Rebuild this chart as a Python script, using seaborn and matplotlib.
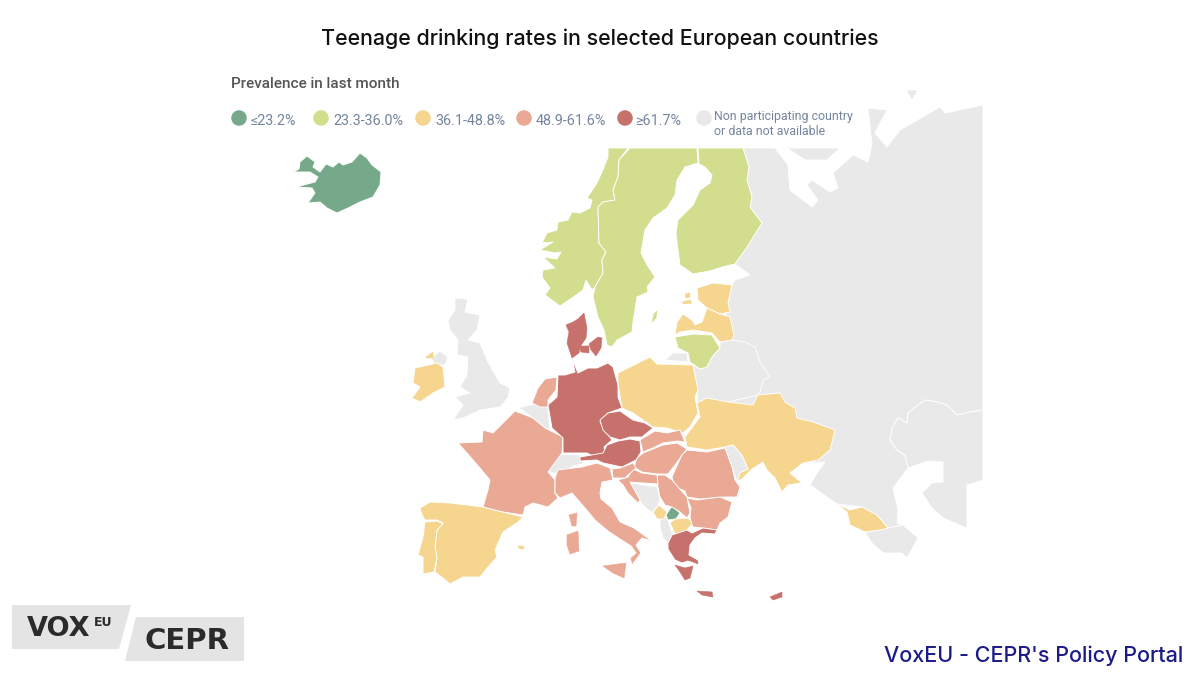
import matplotlib
matplotlib.use("Agg")
import matplotlib.pyplot as plt
import pandas as pd
import seaborn as sns

# legend bands
band_labels = ["≤23.2%", "23.3-36.0%", "36.1-48.8%", "48.9-61.6%", "≥61.7%"]
no_data_label = "Non participating country\nor data not available"
band_colors = ["#76a98a", "#d2dd8e", "#f6d58f", "#e9a994", "#c7716c", "#e9e9e9"]

# outlines, in image pixels
iceland = [(293,172),(299,169),(300,162),(307,156),(315,162),(313,167),(320,172),(326,164),(333,167),(339,162),(343,165),(352,162),(360,153),(367,158),(372,165),(381,172),(380,185),(373,197),(360,202),(348,208),(337,213),(327,208),(320,202),(308,203),(315,193),(312,188),(296,187),(315,182),(318,177),(310,172)]
norway = [(608,148),(628,148),(619,160),(618,177),(613,190),(615,200),(603,202),(598,207),(599,243),(606,252),(602,260),(603,273),(595,287),(592,290),(586,280),(583,290),(572,298),(560,306),(545,295),(550,288),(542,277),(543,270),(555,268),(543,257),(557,259),(561,252),(555,253),(540,250),(553,242),(542,243),(547,233),(557,230),(558,222),(568,220),(572,212),(580,213),(590,208),(592,200),(587,198),(597,183),(602,172),(608,157)]
sweden = [(630,148),(697,148),(698,163),(685,167),(677,180),(675,195),(667,208),(653,218),(645,230),(641,253),(647,265),(655,277),(647,287),(648,292),(637,297),(633,322),(632,332),(617,340),(612,347),(607,345),(604,330),(598,317),(593,297),(595,287),(603,273),(602,260),(606,252),(599,243),(598,207),(603,202),(615,200),(613,190),(618,177),(619,160)]
gotland = [(652,322),(654,314),(657,311),(656,318)]
finland = [(698,148),(743,148),(749,167),(747,180),(752,197),(750,207),(762,223),(747,247),(735,264),(722,267),(710,271),(693,274),(680,265),(678,250),(676,233),(678,220),(693,205),(700,190),(710,183),(712,175),(705,167),(699,164)]
estonia = [(697,288),(713,283),(732,285),(728,303),(730,312),(720,314),(707,308),(698,300)]
saaremaa = [(682,302),(690,300),(692,303),(684,304)]
hiiumaa = [(685,294),(690,293),(690,297),(686,298)]
latvia = [(675,335),(677,322),(683,314),(692,320),(695,325),(702,322),(707,308),(720,314),(730,317),(734,335),(732,340),(720,342),(712,333),(693,330),(680,332)]
lithuania = [(675,337),(693,334),(712,335),(720,348),(712,357),(707,367),(700,369),(690,362),(688,353),(678,348)]
kaliningrad = [(665,360),(673,353),(687,353),(688,362)]
poland = [(618,373),(650,357),(657,364),(693,365),(698,390),(695,397),(698,413),(690,427),(683,433),(667,428),(653,427),(633,413),(622,408),(618,383)]
jutland = [(566,325),(573,322),(578,319),(584,313),(587,328),(586,338),(580,347),(579,353),(572,358),(567,343),(569,332)]
zealand = [(589,344),(598,337),(602,338),(601,348),(596,356),(591,350)]
funen = [(579,346),(589,346),(589,353),(581,352)]
germany = [(572,358),(578,373),(588,368),(597,368),(608,363),(613,367),(618,385),(618,397),(622,408),(608,413),(600,422),(607,433),(612,440),(604,447),(605,453),(593,456),(587,453),(563,453),(563,438),(552,428),(548,405),(557,397),(558,375),(565,375),(575,372)]
czechia = [(600,420),(608,413),(620,411),(633,420),(645,423),(653,428),(642,437),(630,437),(620,440),(610,437),(603,430)]
austria = [(607,445),(618,441),(630,439),(640,441),(641,452),(636,460),(622,467),(603,463),(597,460),(580,461),(580,457),(603,453)]
netherlands = [(532,403),(538,388),(545,379),(557,377),(556,390),(548,400),(548,407),(540,407)]
belgium = [(519,408),(533,404),(548,407),(550,430),(545,428),(533,418)]
france = [(515,411),(533,418),(545,428),(563,437),(562,453),(548,472),(555,480),(555,493),(558,498),(548,507),(533,503),(525,507),(523,515),(503,512),(483,507),(488,490),(490,480),(480,468),(467,453),(458,443),(482,442),(483,430),(493,433)]
corsica = [(569,515),(577,513),(576,526),(572,526)]
sardinia = [(567,535),(578,531),(579,551),(570,554),(567,545)]
sicily = [(603,566),(626,563),(624,578),(613,573)]
italy = [(555,478),(558,470),(582,467),(597,463),(610,468),(613,480),(602,482),(600,493),(601,499),(612,508),(620,522),(634,528),(652,541),(642,538),(636,545),(641,553),(632,565),(630,558),(636,553),(631,546),(620,539),(608,531),(595,520),(585,508),(572,493),(560,498),(555,493)]
switzerland = [(547,471),(555,457),(563,454),(580,455),(583,464),(573,466),(560,475)]
spain = [(420,508),(430,502),(450,503),(483,507),(503,512),(523,517),(518,522),(503,532),(495,550),(497,557),(488,567),(480,577),(463,577),(450,584),(443,578),(435,572),(437,557),(435,547),(437,530),(443,523),(437,520),(425,520),(422,515)]
portugal = [(425,522),(437,521),(443,524),(437,530),(435,547),(437,557),(434,572),(423,574),(423,557),(418,555),(423,537)]
mallorca = [(518,546),(523,546),(524,549),(520,549)]
ireland = [(415,368),(428,365),(437,363),(443,367),(445,387),(433,393),(420,402),(412,398),(420,387),(413,383)]
donegal = [(426,357),(433,352),(433,358),(427,358)]
n_ireland = [(431,358),(440,351),(448,357),(445,365),(435,365)]
britain = [(455,298),(468,299),(465,312),(480,315),(477,330),(468,340),(480,343),(488,362),(500,383),(510,388),(508,398),(500,407),(480,410),(463,418),(453,420),(463,405),(455,397),(470,393),(460,387),(467,375),(468,357),(457,355),(458,340),(450,330),(448,320),(455,310)]
slovakia = [(640,440),(655,431),(667,433),(680,430),(685,442),(677,441),(663,443),(653,448),(643,452)]
hungary = [(637,458),(643,453),(653,449),(663,445),(677,443),(687,449),(680,458),(675,465),(668,474),(657,474),(642,472),(634,467)]
romania = [(687,450),(707,452),(725,448),(732,467),(735,480),(740,487),(737,497),(723,497),(700,499),(687,497),(685,491),(675,487),(672,477),(675,470),(682,455)]
moldova = [(725,447),(733,445),(742,455),(748,469),(740,473),(737,482),(732,467)]
ukraine = [(685,437),(700,417),(697,403),(707,398),(728,402),(753,405),(758,395),(780,393),(785,402),(795,408),(797,418),(813,422),(835,430),(830,450),(818,460),(803,463),(790,473),(802,483),(788,485),(782,492),(775,478),(767,470),(763,462),(752,469),(743,478),(737,482),(740,473),(748,469),(742,455),(733,445),(725,447),(707,450),(687,447)]
belarus = [(732,340),(745,342),(755,347),(760,362),(770,377),(763,380),(760,392),(758,395),(728,402),(697,403),(698,390),(693,365),(688,362),(700,369),(707,367),(712,357),(720,348),(720,342)]
bulgaria = [(687,498),(697,500),(720,497),(732,502),(728,517),(720,523),(717,530),(703,528),(693,527),(690,518),(691,508)]
serbia = [(657,475),(665,475),(672,480),(678,487),(687,497),(690,513),(687,518),(680,512),(672,507),(665,505),(660,497),(658,487)]
kosovo = [(666,515),(672,506),(680,513),(676,519),(668,520)]
montenegro = [(653,512),(659,505),(667,512),(664,519),(657,519)]
macedonia = [(670,523),(675,519),(688,518),(693,523),(686,531),(675,534)]
albania = [(660,518),(665,515),(668,520),(671,530),(673,535),(668,543),(663,538),(660,528)]
greece = [(672,535),(687,530),(692,533),(703,528),(717,530),(715,534),(702,533),(695,538),(690,545),(689,555),(698,560),(699,565),(688,561),(682,563),(675,560),(668,549),(668,543)]
peloponnese = [(675,565),(685,568),(693,566),(690,578),(685,580),(680,572)]
crete = [(697,591),(712,592),(713,597),(702,595)]
cyprus = [(770,597),(782,592),(782,597),(773,600)]
bosnia = [(630,483),(643,485),(657,487),(660,500),(658,505),(652,513),(643,505),(635,495)]
croatia = [(628,477),(633,469),(642,473),(657,475),(658,484),(643,483),(630,482),(640,500),(638,503),(628,493),(623,485),(618,480)]
slovenia = [(612,469),(620,468),(633,463),(636,468),(628,475),(625,478),(613,478)]
georgia = [(837,504),(850,510),(862,507),(877,515),(888,528),(880,530),(865,532),(850,525),(847,512)]
caucasus_south = [(865,532),(880,530),(888,528),(903,525),(918,538),(907,558),(902,553),(883,553),(872,543)]
russia = [(743,148),(775,148),(788,165),(790,190),(812,207),(818,200),(807,185),(812,180),(830,192),(838,188),(833,173),(853,155),(868,162),(872,145),(868,108),(887,110),(875,133),(887,147),(900,130),(940,107),(945,113),(983,105),(983,410),(970,412),(957,415),(947,405),(937,402),(925,400),(908,413),(907,423),(898,418),(892,428),(890,440),(897,450),(905,455),(908,468),(893,488),(898,510),(897,523),(903,525),(888,528),(877,515),(862,507),(837,504),(810,485),(817,473),(825,462),(803,463),(760,430),(700,410),(690,362),(720,345),(732,285),(735,280),(750,275),(735,264),(762,223),(750,207),(752,197),(747,180),(749,167)]
kola_strip = [(787,148),(840,148),(827,160),(805,160)]
novaya = [(906,90),(918,90),(912,100)]
kazakhstan = [(908,468),(905,455),(897,450),(890,440),(892,428),(898,418),(907,423),(908,413),(925,400),(937,402),(947,405),(957,415),(970,412),(983,410),(983,480),(967,485),(967,528),(943,518),(932,508),(922,493),(932,483),(943,482),(943,462),(928,461)]

# band index per outline, 5 = no data
map_table = pd.DataFrame(
    [(russia, 5), (kola_strip, 5), (novaya, 5), (kazakhstan, 5), (caucasus_south, 5), (belarus, 5),
     (moldova, 5), (bosnia, 5), (albania, 5), (switzerland, 5), (belgium, 5), (britain, 5),
     (n_ireland, 5), (kaliningrad, 5),
     (iceland, 0), (kosovo, 0),
     (norway, 1), (sweden, 1), (finland, 1), (lithuania, 1),
     (estonia, 2), (latvia, 2), (poland, 2), (ukraine, 2), (georgia, 2),
     (spain, 2), (portugal, 2), (ireland, 2), (montenegro, 2), (macedonia, 2),
     (france, 3), (italy, 3), (netherlands, 3), (slovakia, 3),
     (hungary, 3), (romania, 3), (bulgaria, 3), (serbia, 3), (croatia, 3), (slovenia, 3),
     (germany, 4), (czechia, 4), (austria, 4), (greece, 4)],
    columns=["outline", "band"],
)
# islands and small pieces keep their own colour on the edge, a white one would eat them
islands_table = pd.DataFrame(
    [(gotland, 1), (saaremaa, 2), (hiiumaa, 2), (mallorca, 2), (donegal, 2),
     (corsica, 3), (sardinia, 3), (sicily, 3),
     (jutland, 4), (zealand, 4), (funen, 4), (peloponnese, 4), (crete, 4), (cyprus, 4)],
    columns=["outline", "band"],
)

legend_x = [239, 321, 423, 524, 625, 704]
legend_text_x = [251, 333, 435, 536, 635, 714]

sns.set_theme(style="white")
plt.rcParams["font.family"] = ["Roboto", "DejaVu Sans"]
palette = sns.color_palette(band_colors)

fig = plt.figure(figsize=(12, 6.75), dpi=100)
ax = fig.add_axes([0, 0, 1, 1])

for outline, band in zip(map_table["outline"], map_table["band"]):
    xs, ys = zip(*outline)
    ax.fill(xs, ys, facecolor=palette[band], edgecolor="white", linewidth=0.65, joinstyle="round")
for outline, band in zip(islands_table["outline"], islands_table["band"]):
    xs, ys = zip(*outline)
    ax.fill(xs, ys, facecolor=palette[band], edgecolor=palette[band], linewidth=0.4, joinstyle="round")

# legend dots
legend_df = pd.DataFrame({"x": legend_x, "y": [118] * 6, "band": band_labels + [no_data_label]})
sns.scatterplot(data=legend_df, x="x", y="y", hue="band", palette=palette, s=125, linewidth=0,
                legend=False, ax=ax)
ax.set_xlim(0, 1200)
ax.set_ylim(675, 0)
ax.axis("off")

ax.text(231, 84, "Prevalence in last month", fontsize=11, fontweight="medium", color="#555555", va="center")
for tx, label in zip(legend_text_x[:5], band_labels):
    ax.text(tx, 121, label, fontsize=10.4, color="#75859f", va="center")
ax.text(714, 124, no_data_label, fontsize=8.9, color="#75859f", va="center", linespacing=1.25)

ax.text(600, 39, "Teenage drinking rates in selected European countries", fontsize=15.4,
        fontweight="medium", color="#111111", ha="center", va="center",
        fontfamily=["Inter", "DejaVu Sans"])

# logo boxes
ax.fill([12, 131, 119, 12], [605, 605, 649, 649], color="#e4e4e4", linewidth=0)
ax.fill([136, 244, 244, 125], [617, 617, 661, 661], color="#e4e4e4", linewidth=0)
ax.text(27, 629.5, "VOX", fontsize=19.5, fontweight="bold", color="#2b2b2b", va="center",
        fontfamily=["DejaVu Sans"])
ax.text(94, 623, "EU", fontsize=9, fontweight="bold", color="#2b2b2b", va="center",
        fontfamily=["DejaVu Sans"])
ax.text(145, 641, "CEPR", fontsize=21, fontweight="bold", color="#2b2b2b", va="center",
        fontfamily=["DejaVu Sans"])
ax.text(1183, 655.5, "VoxEU - CEPR's Policy Portal", fontsize=15.5, fontweight="medium", color="#1b1b8a",
        ha="right", va="center", fontfamily=["Inter", "DejaVu Sans"])

plt.savefig("out.png", dpi=100)
